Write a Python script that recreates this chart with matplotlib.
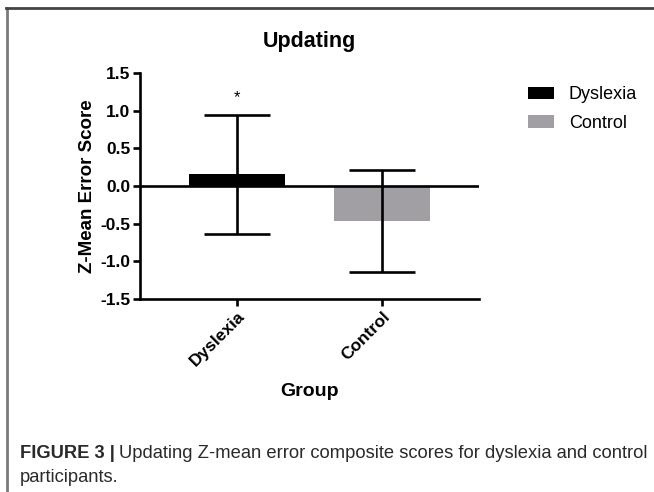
import matplotlib
matplotlib.use("Agg")
import matplotlib.pyplot as plt
from matplotlib.patches import Patch
from matplotlib.lines import Line2D

plt.rcParams['font.family'] = ['Liberation Sans', 'DejaVu Sans']

groups = ["Dyslexia", "Control"]
means = [0.155, -0.465]
errors = [0.79, 0.68]
colors = ["#000000", "#a19fa4"]
yticks = [-1.5, -1.0, -0.5, 0.0, 0.5, 1.0, 1.5]
ytick_labels = ["-1.5", "-1.0", "-0.5", "0.0", "0.5", "1.0", "1.5"]
sig_marks = ["*", ""]

W, H = 654, 492
fig = plt.figure(figsize=(W/100, H/100), dpi=100)

# axes placement in pixels
x0, x1 = 140, 479
y_top, y_bot = 73, 299
ax = fig.add_axes([x0/W, 1 - y_bot/H, (x1-x0)/W, (y_bot-y_top)/H])

xs = list(range(len(groups)))
ax.bar(xs, means, width=0.66, color=colors, zorder=2)
ax.errorbar(xs, means, yerr=errors, fmt='none', ecolor='black', elinewidth=1.9,
            capsize=24, capthick=1.9, zorder=3)
ax.axhline(0, color='black', lw=1.9, zorder=4)
for x, m, e, s in zip(xs, means, errors, sig_marks):
    if s:
        ax.text(x, 1.17, s, ha='center', va='center', fontsize=12)

ax.set_xlim(-0.67, 1.67)
ax.set_ylim(-1.5, 1.5)
ax.set_yticks(yticks)
ax.set_yticklabels(ytick_labels, fontweight='bold', fontsize=12.5)
ax.set_xticks(xs)
ax.set_xticklabels(groups, rotation=45, ha='right', rotation_mode='anchor',
                   fontweight='bold', fontsize=12.5)
for sp in ['top', 'right']:
    ax.spines[sp].set_visible(False)
for sp in ['left', 'bottom']:
    ax.spines[sp].set_linewidth(1.9)
ax.tick_params(axis='both', width=1.9, length=5, pad=2)
ax.set_ylabel("Z-Mean Error Score", fontweight='bold', fontsize=13.5)
ax.yaxis.set_label_coords((88 - x0)/(x1 - x0), 0.5)
ax.set_xlabel("Group", fontweight='bold', fontsize=14)
ax.xaxis.set_label_coords(0.5, (y_bot - 391)/(y_bot - y_top))
ax.xaxis.label.set_va('center')
ax.yaxis.label.set_va('center')
ax.set_title("Updating", fontweight='bold', fontsize=15.5, pad=19)

handles = [Patch(facecolor=c, edgecolor='none') for c in colors]
fig.legend(handles, groups, loc='upper left', bbox_to_anchor=(512/W, 1 - 70/H),
           frameon=False, fontsize=13, handlelength=1.45, handleheight=0.7,
           labelspacing=0.65, handletextpad=0.8)

# border lines
fig.add_artist(Line2D([7/W, 7/W], [0, 1 - 8/H], color='#7a7a7a', lw=2.0))
fig.add_artist(Line2D([6/W, 1], [1 - 8/H, 1 - 8/H], color='#444444', lw=2.0))

# caption
cap_col = '#2a2a2a'
fs_cap = 13.2
t1 = fig.text(20/W, 1 - 454/H, "FIGURE 3 |", fontweight='bold', fontsize=fs_cap,
              color=cap_col, va='center', ha='left')
fig.canvas.draw()
bb = t1.get_window_extent()
fig.text((bb.x1 + 4)/W, 1 - 454/H,
         "Updating Z-mean error composite scores for dyslexia and control",
         fontsize=fs_cap, color=cap_col, va='center', ha='left')
fig.text(20/W, 1 - 478/H, "participants.", fontsize=fs_cap, color=cap_col,
         va='center', ha='left')

fig.savefig("out.png", dpi=100)
